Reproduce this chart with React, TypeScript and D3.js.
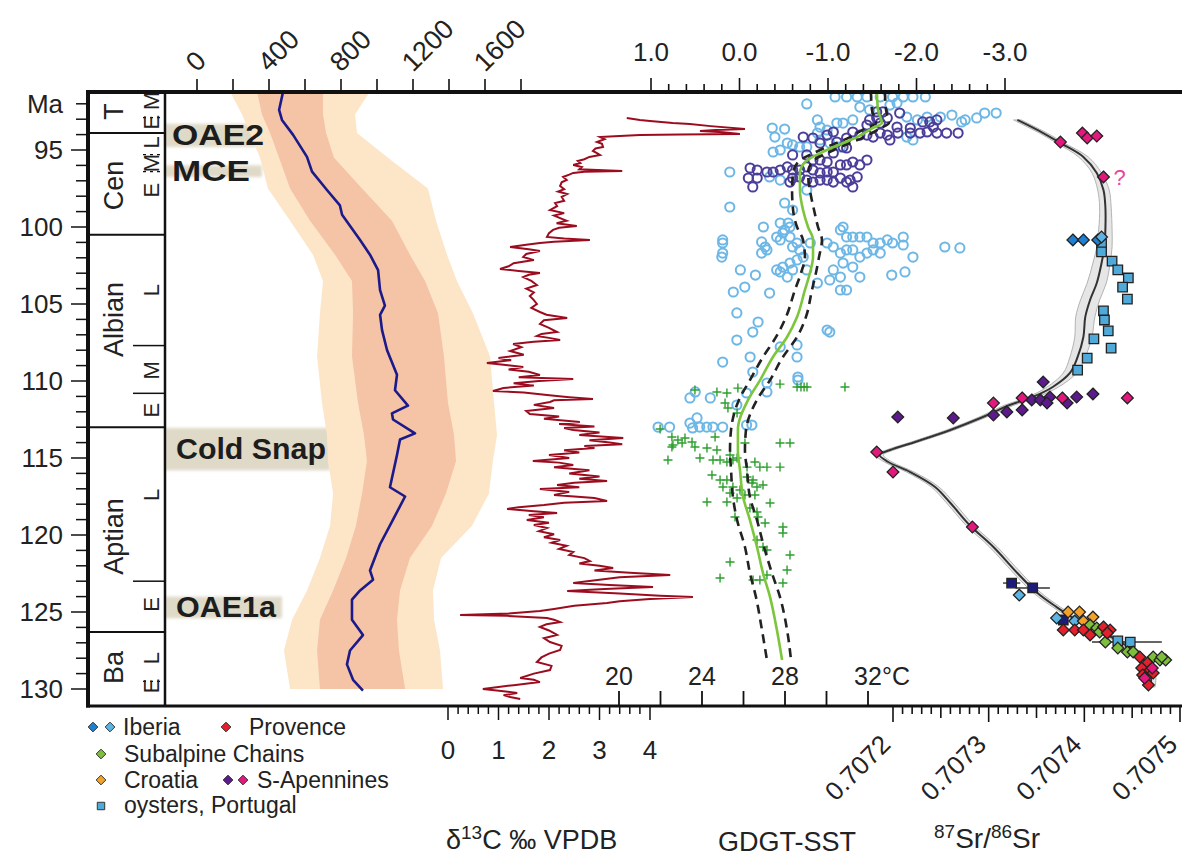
import React from "react";
import * as d3 from "d3";

// ---------- age axis / stratigraphy ----------
const maTicks = d3.range(92, 131);
const maLabels = [95, 100, 105, 110, 115, 120, 125, 130];
const stageNames = ["T", "Cen", "Albian", "Aptian", "Ba"];
const stageMid = [92.5, 97.3, 106.0, 120.1, 128.6];
const stageBounds = [93.9, 100.5, 113.0, 126.3];
const subBounds = [107.7, 110.8, 123.0];
const subDashed = [92.9, 95.3, 96.4, 129.5];
const subLetters = ["M", "E", "L", "M", "E", "L", "M", "E", "L", "E", "L", "E"];
const subMa = [91.8, 93.2, 94.5, 95.85, 97.6, 104.1, 109.3, 111.9, 117.4, 124.5, 128.0, 129.8];

const eventNames = ["OAE2", "MCE", "Cold Snap", "OAE1a"];
const eventTop = [93.3, 96.0, 113.05, 124.0];
const eventBottom = [94.8, 96.75, 115.8, 125.4];

// ---------- pCO2 (ppm) ----------
const co2Ticks = d3.range(0, 1801, 200);
const co2Labels = [0, 400, 800, 1200, 1600];
const co2Ma = [91.23, 92.4, 93.05, 94.0, 95.45, 96.4, 97.6, 98.6, 99.2, 100.85, 101.8, 102.8, 104.1, 105.1, 105.7, 106.7, 108.0, 109.6, 110.6, 111.6, 112.1, 112.5, 113.4, 113.8, 114.8, 116.9, 117.5, 119.0, 120.6, 122.3, 122.9, 123.6, 124.2, 125.5, 126.5, 127.5, 128.4, 129.4, 130.1];
const co2Med = [478, 456, 472, 533, 611, 639, 722, 794, 806, 906, 961, 1006, 1017, 1044, 1017, 1028, 1056, 1111, 1100, 1172, 1083, 1089, 1211, 1128, 1111, 1072, 1156, 1089, 1017, 961, 978, 906, 861, 861, 922, 850, 833, 867, 922];
const bandMa = [91.2, 92.7, 93.9, 95.5, 97.5, 99.6, 101.8, 103.5, 105.6, 108.4, 111.4, 113.5, 115.2, 117.3, 119.4, 121.5, 123.6, 125.5, 127.5, 130.0];
const outerLo = [183, 250, 294, 350, 394, 517, 644, 700, 683, 667, 694, 722, 728, 756, 739, 683, 611, 528, 483, 517];
const innerLo = [333, 361, 406, 456, 517, 628, 767, 861, 867, 861, 894, 928, 944, 917, 883, 828, 756, 683, 667, 683];
const innerHi = [700, 700, 717, 761, 917, 1083, 1183, 1267, 1339, 1372, 1394, 1428, 1439, 1383, 1306, 1183, 1128, 1111, 1122, 1156];
const outerHi = [961, 878, 889, 1061, 1283, 1328, 1389, 1444, 1533, 1628, 1650, 1667, 1644, 1622, 1528, 1356, 1311, 1317, 1350, 1367];

// ---------- d13C carb ----------
const d13Ticks = [0, 1, 2, 3, 4];
const d13: [number, number][] = [
  [92.92, 3.54], [93.05, 3.8], [93.12, 4.0], [93.25, 4.45], [93.31, 4.79], [93.45, 5.2], [93.64, 5.88], [93.7, 5.3], [93.77, 4.99], [93.85, 5.45], [93.96, 5.78], [94.0, 4.6], [94.03, 3.8], [94.1, 3.3], [94.16, 3.01], [94.3, 3.1], [94.48, 2.95], [94.6, 3.05], [94.81, 3.07], [94.9, 2.92], [95.06, 2.87], [95.2, 2.95], [95.32, 3.01], [95.45, 2.8], [95.6, 2.7], [95.71, 2.57], [95.85, 2.62], [95.97, 2.48], [96.1, 2.65], [96.25, 2.6], [96.36, 3.45], [96.42, 2.7], [96.49, 2.48], [96.6, 2.4], [96.75, 2.28], [96.95, 2.35], [97.1, 2.25], [97.34, 2.22], [97.55, 2.3], [97.7, 2.18], [97.86, 2.36], [98.05, 2.25], [98.3, 2.3], [98.45, 2.12], [98.64, 2.16], [98.9, 2.02], [99.1, 2.3], [99.25, 2.1], [99.42, 2.22], [99.6, 2.35], [99.75, 2.15], [99.94, 2.55], [100.05, 2.2], [100.19, 2.08], [100.4, 2.0], [100.65, 1.96], [100.75, 2.3], [100.84, 2.81], [100.95, 2.1], [101.04, 1.82], [101.15, 1.55], [101.3, 1.23], [101.45, 1.6], [101.56, 1.82], [101.75, 1.55], [101.95, 1.49], [102.15, 1.7], [102.35, 1.3], [102.55, 1.2], [102.73, 1.03], [102.85, 1.4], [102.99, 1.82], [103.1, 1.6], [103.25, 1.49], [103.5, 1.65], [103.77, 1.76], [104.0, 1.55], [104.25, 1.7], [104.48, 1.62], [104.75, 1.7], [105.0, 1.76], [105.25, 1.65], [105.52, 1.82], [105.7, 1.95], [105.91, 2.36], [106.05, 1.9], [106.3, 1.82], [106.55, 2.0], [106.82, 2.16], [106.95, 1.85], [107.08, 1.76], [107.2, 2.0], [107.34, 2.22], [107.45, 1.7], [107.6, 1.29], [107.8, 1.45], [108.05, 1.23], [108.3, 1.5], [108.5, 1.0], [108.65, 1.25], [108.83, 0.77], [108.95, 1.1], [109.09, 1.49], [109.25, 1.2], [109.4, 1.6], [109.61, 1.82], [109.75, 1.4], [109.87, 2.48], [110.0, 1.8], [110.15, 1.3], [110.3, 1.7], [110.45, 1.1], [110.65, 0.89], [110.75, 1.5], [110.91, 1.96], [111.05, 2.4], [111.17, 2.87], [111.25, 2.1], [111.36, 2.02], [111.55, 1.7], [111.75, 2.1], [111.95, 1.55], [112.14, 1.62], [112.3, 2.2], [112.45, 1.9], [112.66, 2.61], [112.8, 2.2], [112.95, 2.9], [113.05, 2.3], [113.18, 2.48], [113.35, 3.0], [113.5, 2.6], [113.7, 3.47], [113.85, 2.8], [114.0, 3.2], [114.1, 3.45], [114.22, 2.7], [114.35, 2.9], [114.5, 2.3], [114.65, 2.6], [114.8, 2.0], [115.0, 2.4], [115.19, 1.68], [115.3, 2.2], [115.45, 2.48], [115.6, 2.1], [115.8, 2.8], [116.0, 2.4], [116.2, 3.0], [116.35, 2.6], [116.49, 3.15], [116.6, 2.5], [116.75, 2.16], [116.9, 2.6], [117.01, 1.82], [117.2, 2.4], [117.4, 2.1], [117.6, 2.9], [117.79, 3.15], [117.9, 2.3], [118.05, 1.9], [118.2, 1.4], [118.31, 1.17], [118.45, 1.7], [118.57, 2.16], [118.7, 1.6], [118.85, 1.9], [119.03, 1.56], [119.2, 2.0], [119.35, 1.7], [119.55, 1.96], [119.75, 1.8], [119.95, 2.1], [120.15, 1.9], [120.32, 2.22], [120.5, 2.05], [120.7, 2.35], [120.9, 2.2], [121.1, 2.48], [121.3, 2.4], [121.5, 2.7], [121.69, 2.81], [121.85, 2.6], [122.0, 3.0], [122.14, 3.27], [122.3, 2.9], [122.45, 3.6], [122.6, 4.4], [122.75, 3.4], [122.9, 3.0], [123.12, 2.48], [123.25, 3.2], [123.38, 4.06], [123.5, 3.1], [123.64, 2.36], [123.8, 3.4], [123.95, 4.2], [124.03, 4.85], [124.15, 4.0], [124.3, 3.4], [124.42, 3.15], [124.6, 2.5], [124.8, 2.1], [124.94, 1.82], [125.1, 1.2], [125.19, 0.24], [125.25, 1.17], [125.39, 1.96], [125.5, 2.1], [125.65, 2.22], [125.8, 1.95], [125.97, 1.82], [126.2, 2.0], [126.49, 2.16], [126.7, 1.9], [126.95, 2.02], [127.2, 2.25], [127.47, 2.22], [127.7, 2.0], [127.95, 1.85], [128.25, 1.76], [128.5, 2.05], [128.77, 2.02], [129.0, 1.7], [129.29, 1.43], [129.4, 1.7], [129.55, 1.82], [129.75, 1.3], [130.0, 0.69], [130.15, 1.1], [130.26, 1.37], [130.4, 1.1], [130.52, 1.23], [130.65, 1.43],
];

// ---------- d18O (top right axis) and GDGT-SST ----------
const d18Labels = [1, 0, -1, -2, -3];
const sstLabels = [20, 24, 28, 32];
const sstTicks = [20, 22, 24, 26, 28, 30, 32];
const o18Light: [number, number][] = [
  [91.56, -1.08], [91.56, -1.21], [91.56, -1.33], [91.56, -1.44], [91.56, -1.59], [91.56, -1.73], [91.56, -1.85], [91.56, -1.96], [91.56, -2.1],
  [92.01, -0.76], [92.21, -1.36], [92.4, -1.47], [92.08, -1.7], [91.95, -1.78], [93.05, -1.28], [93.25, -1.17], [93.25, -1.1], [93.51, -0.91], [93.05, -0.88], [93.7, -0.99], [93.57, -0.37], [93.64, -0.51], [94.16, -0.4],
  [92.86, -1.89], [93.05, -2.01], [92.86, -2.12], [92.86, -2.27], [92.73, -2.4], [93.18, -2.51], [93.05, -2.55], [92.6, -2.77], [92.92, -2.68], [92.6, -2.9], [94.16, -1.89], [94.35, -1.96],
  [94.55, -0.54], [94.67, -0.6], [94.8, -0.68], [94.8, -0.76], [95.0, -0.46], [95.13, -0.38], [93.9, -0.88], [94.35, -0.91], [94.55, -1.02], [94.8, -1.14],
  [96.43, 0.11], [96.95, -0.46], [96.75, -0.34], [98.7, 0.11], [98.44, -0.51], [98.9, -0.6], [97.6, -0.76],
  [100.0, -0.27], [99.74, -0.46], [100.39, -0.49], [100.0, -0.57], [100.84, 0.19], [101.04, 0.19], [101.69, 0.19], [101.95, 0.2], [100.97, -0.25], [101.3, -0.29], [101.69, -0.25], [101.49, -0.31],
  [100.65, -0.42], [100.84, -0.46], [100.19, -0.51], [99.74, -0.55], [100.65, -0.57], [101.3, -0.6], [101.04, -0.65], [101.49, -0.68], [101.95, -0.72], [101.04, -0.8], [102.14, -0.65], [102.34, -0.57], [102.6, -0.49], [102.92, -0.46], [103.25, -0.54], [102.79, -0.42],
  [101.04, -0.99], [101.3, -1.06], [100.19, -1.14], [100.0, -1.17], [100.65, -1.21], [100.65, -1.28], [100.65, -1.36], [100.65, -1.44], [101.04, -1.51], [101.04, -1.59], [100.84, -1.67], [101.04, -1.73], [100.65, -1.85], [101.17, -1.85], [101.49, -1.51], [101.69, -1.59], [101.69, -1.44], [101.95, -1.36], [101.49, -1.28], [101.49, -1.21], [101.69, -1.14], [102.34, -1.17], [102.6, -1.28], [103.25, -1.36], [103.25, -1.14], [103.44, -1.02], [104.09, -1.14], [104.09, -1.21], [102.79, -1.06],
  [101.95, -1.96], [103.12, -1.72], [102.92, -1.87], [101.3, -2.32], [101.36, -2.49],
  [102.79, -0.01], [103.12, -0.18], [104.22, 0.07], [103.9, -0.06], [104.29, -0.34], [102.79, -0.6], [102.79, -0.76], [103.64, -0.88],
  [105.58, 0.03], [106.17, -0.21], [106.82, -0.15], [106.69, -0.99], [106.82, -1.02], [107.34, 0.03], [108.77, 0.19], [108.44, -0.12], [109.42, -0.15], [110.13, -0.31], [107.66, -0.65], [108.44, -0.65], [109.74, -0.66], [107.79, -0.46],
  [111.1, 0.56], [111.1, 0.33], [110.71, 0.5], [110.78, -0.08], [111.56, 0.03], [110.71, -0.31], [109.94, -0.66],
  [112.99, 0.79], [112.73, 0.56], [112.4, 0.48], [112.99, 0.45], [112.99, 0.37], [112.99, 0.3], [112.99, 0.19], [113.05, 0.53], [112.86, -0.08], [112.86, -0.14], [112.99, 0.92],
];
const o18Dark: [number, number][] = [
  [92.53, -1.55], [92.53, -1.62], [92.92, -1.55], [92.92, -1.67], [93.25, -1.59], [92.6, -1.81], [93.51, -1.78], [93.57, -1.93], [93.18, -2.07], [93.18, -2.15], [93.51, -2.19], [93.05, -2.23], [93.83, -2.12], [93.9, -2.23], [93.9, -2.34], [93.9, -2.47], [93.9, -2.04], [93.9, -1.93], [93.9, -1.79], [94.03, -1.67], [93.9, -1.59], [94.16, -1.51], [94.03, -1.44], [94.03, -1.36], [93.83, -1.28], [94.22, -1.21], [94.8, -1.17], [94.48, -1.1], [93.83, -1.06], [94.03, -0.99], [94.55, -0.91], [94.22, -0.83], [94.16, -0.72], [93.05, -1.47], [93.38, -1.44], [94.35, -1.7],
  [95.32, -0.6], [95.32, -0.76], [95.65, -0.83], [95.65, -0.91], [95.78, -0.99], [95.19, -1.06], [94.87, -1.21], [95.78, -1.28], [95.97, -1.36], [95.65, -1.44], [95.97, -1.14], [95.97, -1.21],
  [96.43, -1.06], [96.43, -0.99], [96.49, -0.91], [96.3, -0.83], [96.1, -0.76], [96.3, -0.68], [96.3, -0.6], [96.1, -0.54], [96.3, -0.46], [96.43, -0.38], [96.43, -0.31], [96.3, -0.2], [96.17, -0.12], [96.82, -0.1], [97.4, -0.15], [96.82, -0.2],
  [97.08, -0.57], [96.82, -0.6], [96.75, -0.68], [96.95, -0.76], [97.08, -0.83], [96.95, -0.91], [96.95, -0.99], [97.08, -1.06], [96.82, -1.14], [96.95, -1.25], [96.75, -1.33], [97.4, -1.28], [97.08, -1.21],
];
const sstPts: [number, number][] = [
  [110.39, 30.89], [110.2, 27.76], [110.39, 28.58], [110.39, 28.77], [110.39, 28.92], [110.39, 29.06], [110.58, 23.66], [110.71, 24.72], [110.78, 25.2], [110.46, 25.73], [111.43, 25.11], [111.75, 25.25], [112.08, 25.69],
  [113.12, 21.98], [113.64, 22.55], [113.83, 22.84], [113.7, 23.18], [113.96, 23.52], [114.03, 23.04], [114.16, 22.6], [114.29, 23.66], [114.29, 22.55], [115.13, 22.36], [115.0, 23.9], [114.35, 24.24], [114.48, 24.72],
  [115.13, 24.53], [115.13, 24.87], [115.26, 25.2], [115.13, 25.49], [115.0, 25.69], [114.81, 25.35], [114.03, 26.07], [114.03, 27.76], [114.03, 28.24], [113.64, 24.63], [115.26, 26.55], [115.59, 26.79], [115.59, 27.13], [115.59, 27.76], [115.59, 26.17],
  [116.1, 24.48], [116.43, 24.87], [116.43, 25.2], [116.88, 25.49], [116.88, 25.01], [117.27, 25.35], [117.08, 25.83], [116.62, 26.41], [116.88, 26.65], [116.75, 26.94], [116.43, 26.46], [116.23, 26.17],
  [117.86, 24.24], [117.86, 25.2], [117.6, 25.69], [117.4, 26.07], [117.4, 26.55], [117.92, 27.28], [118.25, 26.31], [118.51, 26.65], [118.83, 25.59], [118.83, 26.7], [119.22, 27.04], [119.48, 27.9], [119.87, 27.9],
  [120.32, 26.65], [120.78, 26.94], [120.97, 27.13], [121.3, 28.24], [121.75, 25.35], [122.27, 28.1], [122.79, 24.87], [122.92, 26.46], [122.6, 27.13], [123.12, 27.9], [122.92, 26.79],
];
const smMa = [91.23, 92.4, 93.25, 93.57, 94.16, 95.0, 95.78, 96.49, 97.6, 98.9, 100.0, 100.84, 101.95, 102.99, 104.09, 105.84, 107.14, 108.44, 109.94, 111.23, 113.18, 114.48, 115.78, 117.53, 119.03, 120.78, 122.47, 124.03, 126.17, 128.12];
const smMid = [32.43, 32.48, 32.67, 32.24, 31.47, 30.02, 28.96, 28.72, 28.72, 28.87, 29.11, 29.35, 29.35, 29.2, 28.96, 28.58, 28.1, 27.42, 26.8, 26.22, 25.73, 25.73, 25.83, 25.98, 26.31, 26.65, 26.94, 27.28, 27.61, 27.86];
const smLo = [32.14, 32.19, 32.39, 31.9, 31.13, 29.69, 28.63, 28.39, 28.34, 28.39, 28.58, 28.87, 28.96, 28.77, 28.48, 28.05, 27.57, 26.94, 26.31, 25.78, 25.4, 25.35, 25.4, 25.49, 25.69, 26.07, 26.31, 26.6, 26.89, 27.13];
const smHi = [32.82, 32.87, 33.01, 32.63, 31.81, 30.36, 29.3, 29.11, 29.2, 29.4, 29.59, 29.78, 29.64, 29.49, 29.3, 29.01, 28.58, 27.9, 27.28, 26.65, 26.12, 26.07, 26.17, 26.31, 26.65, 26.99, 27.37, 27.76, 28.1, 28.29];

// ---------- 87Sr/86Sr ----------
const srLabels = [0.7072, 0.7073, 0.7074, 0.7075];
const srMa = [93.05, 93.9, 94.55, 95.45, 96.49, 97.6, 98.7, 100.19, 101.3, 102.34, 103.64, 104.74, 105.84, 107.14, 108.44, 109.48, 110.39, 111.04, 111.56, 112.34, 113.18, 113.96, 114.48, 114.81, 115.26, 115.91, 116.88, 117.92, 119.35, 120.78, 122.47, 123.77, 124.68, 125.52, 126.17, 126.82, 127.66, 128.77, 129.87];
const srVal = [0.70733, 0.707357, 0.707375, 0.707399, 0.707413, 0.70742, 0.707422, 0.707422, 0.707421, 0.707418, 0.707413, 0.707406, 0.707401, 0.707399, 0.707393, 0.707385, 0.707367, 0.707346, 0.707322, 0.707294, 0.70726, 0.707223, 0.707197, 0.707186, 0.707195, 0.707218, 0.707244, 0.70726, 0.70728, 0.707305, 0.70733, 0.707351, 0.707371, 0.707392, 0.707413, 0.707434, 0.707455, 0.707469, 0.707469];
const srErr = [0.000004, 0.000004, 0.000004, 0.000005, 0.000005, 0.000006, 0.000006, 0.000007, 0.000008, 0.000009, 0.00001, 0.00001, 0.00001, 0.000009, 0.000008, 0.000007, 0.000006, 0.000005, 0.000005, 0.000004, 0.000004, 0.000004, 0.000004, 0.000004, 0.000004, 0.000004, 0.000004, 0.000004, 0.000004, 0.000004, 0.000004, 0.000004, 0.000004, 0.000004, 0.000004, 0.000004, 0.000005, 0.000005, 0.000005];

const srPink: [number, number][] = [[94.48, 0.707375], [93.9, 0.707398], [94.22, 0.707403], [94.09, 0.707413], [96.75, 0.70742], [111.1, 0.707445], [111.43, 0.707305], [111.1, 0.707335], [111.1, 0.707377], [114.61, 0.707183], [115.91, 0.7072], [119.48, 0.707283], [128.64, 0.707471], [129.29, 0.707463]];
const srPurple: [number, number][] = [[110.07, 0.707357], [111.23, 0.707345], [111.23, 0.707354], [111.04, 0.707364], [111.43, 0.707361], [111.04, 0.707392], [110.84, 0.707409], [112.01, 0.707319], [112.21, 0.707305], [111.88, 0.707335], [111.43, 0.707382], [112.4, 0.707263], [112.34, 0.707205]];
const srIberiaDark: [number, number][] = [[100.84, 0.707388], [100.84, 0.707399], [100.84, 0.707414]];
const srIberiaLight: [number, number][] = [[100.65, 0.707418], [123.9, 0.707332], [125.39, 0.707371], [125.59, 0.70739]];
const srOysters: [number, number][] = [[101.1, 0.707418], [101.62, 0.707418], [102.21, 0.707429], [102.79, 0.707435], [103.31, 0.707446], [103.9, 0.70744], [104.68, 0.707445], [105.45, 0.70742], [106.04, 0.707421], [106.75, 0.707425], [107.27, 0.70741], [107.86, 0.707428], [108.51, 0.707403], [109.29, 0.707393], [126.88, 0.707435], [126.95, 0.707448]];
const srNavy: [number, number][] = [[123.12, 0.707324], [123.44, 0.707346], [125.52, 0.707378]];
const srBars: [number, number, number][] = [[123.12, 0.707315, 0.707333], [123.44, 0.707328, 0.707364], [126.95, 0.707408, 0.707481]];
const srCroatia: [number, number][] = [[125.0, 0.707383], [125.0, 0.707395], [125.59, 0.707399], [125.33, 0.707409]];
const srProvence: [number, number][] = [[126.17, 0.707378], [126.17, 0.70739], [126.17, 0.707399], [126.49, 0.707406], [125.97, 0.70742], [126.17, 0.707427], [126.36, 0.707424], [127.92, 0.707458], [128.31, 0.707466], [128.64, 0.70746], [128.77, 0.707469], [129.09, 0.707461], [128.96, 0.707472], [129.74, 0.707467]];
const srSubalpine: [number, number][] = [[125.85, 0.707406], [126.04, 0.707413], [126.3, 0.707416], [126.95, 0.707422], [127.34, 0.707435], [127.6, 0.707445], [127.6, 0.707451], [127.92, 0.707472], [128.12, 0.707479], [128.12, 0.707485], [127.92, 0.707481]];

const C = {
  outer: "#fde6c8",
  inner: "#f5c3a6",
  median: "#1b1a8a",
  d13: "#9c0c1f",
  light: "#6db7e6",
  dark: "#4a3e9a",
  cross: "#2e9e2e",
  smooth: "#7cc63c",
  iberiaDark: "#1f80d2",
  iberiaLight: "#5bb4e4",
  provence: "#e3202c",
  subalpine: "#7dbf3a",
  croatia: "#f2a22a",
  purple: "#5c1a8c",
  pink: "#e3187c",
  oyster: "#4fa9d9",
  navy: "#1c1c7c",
  text: "#222",
  event: "#dcd5c2",
};

const FONT = "'Liberation Sans', Arial, sans-serif";

export default function App() {
  const left = 88, top = 92, bottom = 706, right = 1182, strat = 165;
  const yMa = d3.scaleLinear().domain([100, 130]).range([227, 689]);
  const xCO2 = d3.scaleLinear().domain([0, 1600]).range([197, 485]);
  const xD13 = d3.scaleLinear().domain([0, 4]).range([448, 650]);
  const xD18 = d3.scaleLinear().domain([1, -3]).range([651, 1005]);
  const xSST = d3.scaleLinear().domain([20, 32]).range([619, 868]);
  const xSr = d3.scaleLinear().domain([0.7072, 0.7075]).range([893, 1180]);

  const band = (lo: number[], hi: number[]) =>
    d3.area<number>().y((m) => yMa(m)).x0((_, i) => xCO2(lo[i])).x1((_, i) => xCO2(hi[i]))(bandMa) || "";
  const medianPath = d3.line<number>().x((_, i) => xCO2(co2Med[i])).y((m) => yMa(m))(co2Ma) || "";
  const d13Path = d3.line<[number, number]>().x((d) => xD13(d[1])).y((d) => yMa(d[0]))(d13) || "";
  const smLine = (vals: number[]) =>
    d3.line<number>().x((_, i) => xSST(vals[i])).y((m) => yMa(m)).curve(d3.curveMonotoneY)(smMa) || "";
  const srLine = (vals: number[]) =>
    d3.line<number>().x((_, i) => xSr(vals[i])).y((m) => yMa(m)).curve(d3.curveCatmullRom)(srMa) || "";
  const srLo = srVal.map((v, i) => v - srErr[i]);
  const srHi = srVal.map((v, i) => v + srErr[i]);
  const srEnvelope =
    d3.area<number>().y((m) => yMa(m)).x0((_, i) => xSr(srLo[i])).x1((_, i) => xSr(srHi[i])).curve(d3.curveCatmullRom)(srMa) || "";

  const diamond = d3.symbol().type(d3.symbolDiamond2).size(88)() || "";
  const square = d3.symbol().type(d3.symbolSquare).size(90)() || "";
  const smallDiamond = d3.symbol().type(d3.symbolDiamond2).size(60)() || "";
  const smallSquare = d3.symbol().type(d3.symbolSquare).size(55)() || "";

  const srMarks = (pts: [number, number][], fill: string, shape: string) =>
    pts.map((d, i) => (
      <path key={i} d={shape} transform={`translate(${xSr(d[1])},${yMa(d[0])})`} fill={fill} stroke="#222" strokeWidth={1.3} />
    ));

  const eventRight = [276, 262, 330, 282];
  const eventLen = [92, 78, 150, 100];

  return (
    <svg width={1182} height={858} style={{ position: "absolute", left: 0, top: 0, background: "#fff" }} fontFamily={FONT}>
      <defs>
        <clipPath id="plot">
          <rect x={left} y={top} width={right - left} height={bottom - top} />
        </clipPath>
        <filter id="soft" x="-5%" y="-30%" width="110%" height="160%">
          <feGaussianBlur stdDeviation="1.6" />
        </filter>
      </defs>

      {/* event bands */}
      {eventNames.map((n, i) => (
        <rect key={n} x={strat} y={yMa(eventTop[i])} width={eventRight[i] - strat} height={yMa(eventBottom[i]) - yMa(eventTop[i])} fill={C.event} filter="url(#soft)" opacity={0.9} />
      ))}

      <g clipPath="url(#plot)">
        {/* pCO2 bands and median */}
        <path d={band(outerLo, outerHi)} fill={C.outer} />
        <path d={band(innerLo, innerHi)} fill={C.inner} />
        <path d={medianPath} fill="none" stroke={C.median} strokeWidth={2.6} strokeLinejoin="round" />

        {/* d13C */}
        <path d={d13Path} fill="none" stroke={C.d13} strokeWidth={2} strokeLinejoin="miter" />

        {/* d18O circles */}
        {o18Light.map((d, i) => (
          <circle key={"l" + i} cx={xD18(d[1])} cy={yMa(d[0])} r={4.6} fill="none" stroke={C.light} strokeWidth={2} />
        ))}
        {o18Dark.map((d, i) => (
          <circle key={"d" + i} cx={xD18(d[1])} cy={yMa(d[0])} r={4.6} fill="none" stroke={C.dark} strokeWidth={2} />
        ))}
        {/* GDGT-SST crosses */}
        {sstPts.map((d, i) => (
          <path key={"c" + i} d="M-4.5,0H4.5M0,-4.5V4.5" transform={`translate(${xSST(d[1])},${yMa(d[0])})`} stroke={C.cross} strokeWidth={1.4} />
        ))}
        <path d={smLine(smLo)} fill="none" stroke="#222" strokeWidth={2.6} strokeDasharray="9 6" />
        <path d={smLine(smHi)} fill="none" stroke="#222" strokeWidth={2.6} strokeDasharray="9 6" />
        <path d={smLine(smMid)} fill="none" stroke={C.smooth} strokeWidth={2.6} />

        {/* Sr curve */}
        <path d={srEnvelope} fill="#e4e4e4" stroke="#aaa" strokeWidth={1} opacity={0.9} />
        <path d={srLine(srVal)} fill="none" stroke="#333" strokeWidth={2} />
        {srBars.map((b, i) => (
          <line key={"b" + i} x1={xSr(b[1])} x2={xSr(b[2])} y1={yMa(b[0])} y2={yMa(b[0])} stroke="#333" strokeWidth={1.4} />
        ))}
        {srMarks(srOysters, C.oyster, square)}
        {srMarks(srNavy, C.navy, square)}
        {srMarks(srIberiaDark, C.iberiaDark, diamond)}
        {srMarks(srIberiaLight, C.iberiaLight, diamond)}
        {srMarks(srCroatia, C.croatia, diamond)}
        {srMarks(srSubalpine, C.subalpine, diamond)}
        {srMarks(srProvence, C.provence, diamond)}
        {srMarks(srPurple, C.purple, diamond)}
        {srMarks(srPink, C.pink, diamond)}
        <text x={xSr(0.70742) + 10} y={yMa(96.75) + 8} fontSize={22} fill="#e8479c">?</text>
      </g>

      {/* event labels */}
      {eventNames.map((n, i) => (
        <text key={n} x={n === "OAE2" || n === "MCE" ? 172 : 176} y={(yMa(eventTop[i]) + yMa(eventBottom[i])) / 2 + 10} fontSize={29} fontWeight="bold" fill="#1d1d1d" textLength={eventLen[i]} lengthAdjust="spacingAndGlyphs">
          {n}
        </text>
      ))}

      {/* stratigraphic column */}
      <line x1={strat} x2={strat} y1={top} y2={bottom} stroke="#111" strokeWidth={2.5} />
      {stageBounds.map((b) => (
        <line key={b} x1={left} x2={strat} y1={yMa(b)} y2={yMa(b)} stroke="#111" strokeWidth={2} />
      ))}
      {subBounds.map((b) => (
        <line key={b} x1={133} x2={strat} y1={yMa(b)} y2={yMa(b)} stroke="#111" strokeWidth={1.5} />
      ))}
      {subDashed.map((b) => (
        <line key={b} x1={143} x2={strat} y1={yMa(b)} y2={yMa(b)} stroke="#111" strokeWidth={1.3} strokeDasharray="3 4" />
      ))}
      {stageNames.map((s, i) => (
        <text key={s} transform={`translate(123,${yMa(stageMid[i])}) rotate(-90)`} textAnchor="middle" fontSize={27} fill={C.text}>
          {s}
        </text>
      ))}
      {subLetters.map((s, i) => (
        <text key={i} transform={`translate(159,${yMa(subMa[i])}) rotate(-90)`} textAnchor="middle" fontSize={22} fill={C.text}>
          {s}
        </text>
      ))}

      {/* frame */}
      <line x1={left} x2={left} y1={top - 2} y2={bottom + 1.5} stroke="#111" strokeWidth={4} />
      <line x1={left - 2} x2={right} y1={top} y2={top} stroke="#111" strokeWidth={4} />
      <line x1={left - 2} x2={right} y1={bottom} y2={bottom} stroke="#111" strokeWidth={3} />

      {/* Ma axis */}
      {maTicks.map((m) => (
        <line key={m} x1={m % 5 === 0 ? 71 : 76} x2={left} y1={yMa(m)} y2={yMa(m)} stroke="#111" strokeWidth={1.5} />
      ))}
      {maLabels.map((m) => (
        <text key={m} x={63} y={yMa(m) + 9} textAnchor="end" fontSize={26} fill={C.text}>
          {m}
        </text>
      ))}
      <text x={63} y={yMa(92) + 9} textAnchor="end" fontSize={26} fill={C.text}>Ma</text>

      {/* pCO2 top axis */}
      {co2Ticks.map((t) => (
        <line key={t} x1={xCO2(t)} x2={xCO2(t)} y1={top - 13} y2={top} stroke="#111" strokeWidth={1.6} />
      ))}
      {co2Labels.map((t) => (
        <text key={t} transform={`translate(${xCO2(t)},${top - 19}) rotate(-45)`} fontSize={27} fill={C.text}>
          {t}
        </text>
      ))}

      {/* d18O top axis */}
      {d3.range(-3, 1.0001, 0.2).map((t) => {
        const major = Math.abs(t - Math.round(t)) < 1e-6;
        return <line key={t.toFixed(1)} x1={xD18(t)} x2={xD18(t)} y1={top - (major ? 14 : 8)} y2={top} stroke="#111" strokeWidth={1.6} />;
      })}
      {d18Labels.map((t) => (
        <text key={t} x={xD18(t)} y={61} textAnchor="middle" fontSize={26} fill={C.text}>
          {t.toFixed(1)}
        </text>
      ))}

      {/* SST axis (inside, bottom) */}
      {sstTicks.map((t) => (
        <line key={t} x1={xSST(t)} x2={xSST(t)} y1={bottom - 15} y2={bottom} stroke="#111" strokeWidth={1.8} />
      ))}
      {sstLabels.map((t) => (
        <text key={t} x={xSST(t)} y={685} textAnchor="middle" fontSize={25} fill={C.text}>
          {t}
        </text>
      ))}
      <text x={xSST(32) + 14} y={685} fontSize={25} fill={C.text}>°C</text>

      {/* d13C bottom axis */}
      {d3.range(0, 4.0001, 0.2).map((t) => {
        const major = Math.abs(t - Math.round(t)) < 1e-6;
        return <line key={t.toFixed(1)} x1={xD13(t)} x2={xD13(t)} y1={bottom} y2={bottom + (major ? 14 : 8)} stroke="#111" strokeWidth={1.5} />;
      })}
      {d13Ticks.map((t) => (
        <text key={t} x={xD13(t)} y={759} textAnchor="middle" fontSize={26} fill={C.text}>
          {t}
        </text>
      ))}

      {/* Sr bottom axis */}
      {d3.range(0, 31).map((k) => {
        const v = 0.7072 + k * 0.00001;
        const len = k % 10 === 0 ? 16 : k % 5 === 0 ? 12 : 8;
        return <line key={k} x1={xSr(v)} x2={xSr(v)} y1={bottom} y2={bottom + len} stroke="#111" strokeWidth={1.6} />;
      })}
      {srLabels.map((t) => (
        <text key={t} transform={`translate(${xSr(t) - 1},${bottom + 40}) rotate(-45)`} textAnchor="end" fontSize={26} fill={C.text}>
          {t.toFixed(4)}
        </text>
      ))}

      {/* axis titles */}
      <text x={446} y={849} fontSize={27} fill={C.text}>
        δ<tspan dy={-10} fontSize={19}>13</tspan><tspan dy={10}>C ‰ VPDB</tspan>
      </text>
      <text x={718} y={851} fontSize={27} fill={C.text}>GDGT-SST</text>
      <text x={934} y={848} fontSize={28} fill={C.text}>
        <tspan dy={-10} fontSize={19}>87</tspan><tspan dy={10}>Sr/</tspan><tspan dy={-10} fontSize={19}>86</tspan><tspan dy={10}>Sr</tspan>
      </text>

      {/* legend */}
      <g fontSize={23} fill={C.text}>
        <path d={smallDiamond} transform="translate(93,727)" fill={C.iberiaDark} stroke="#333" />
        <path d={smallDiamond} transform="translate(110,727)" fill={C.iberiaLight} stroke="#333" />
        <text x={123} y={735}>Iberia</text>
        <path d={smallDiamond} transform="translate(226,727)" fill={C.provence} stroke="#333" />
        <text x={249} y={735}>Provence</text>
        <path d={smallDiamond} transform="translate(101,754)" fill={C.subalpine} stroke="#333" />
        <text x={124} y={762}>Subalpine Chains</text>
        <path d={smallDiamond} transform="translate(101,780)" fill={C.croatia} stroke="#333" />
        <text x={124} y={788}>Croatia</text>
        <path d={smallDiamond} transform="translate(228,780)" fill={C.purple} stroke="#333" />
        <path d={smallDiamond} transform="translate(243,780)" fill={C.pink} stroke="#333" />
        <text x={257} y={788}>S-Apennines</text>
        <path d={smallSquare} transform="translate(101,806)" fill={C.oyster} stroke="#333" />
        <text x={124} y={813}>oysters, Portugal</text>
      </g>
    </svg>
  );
}
